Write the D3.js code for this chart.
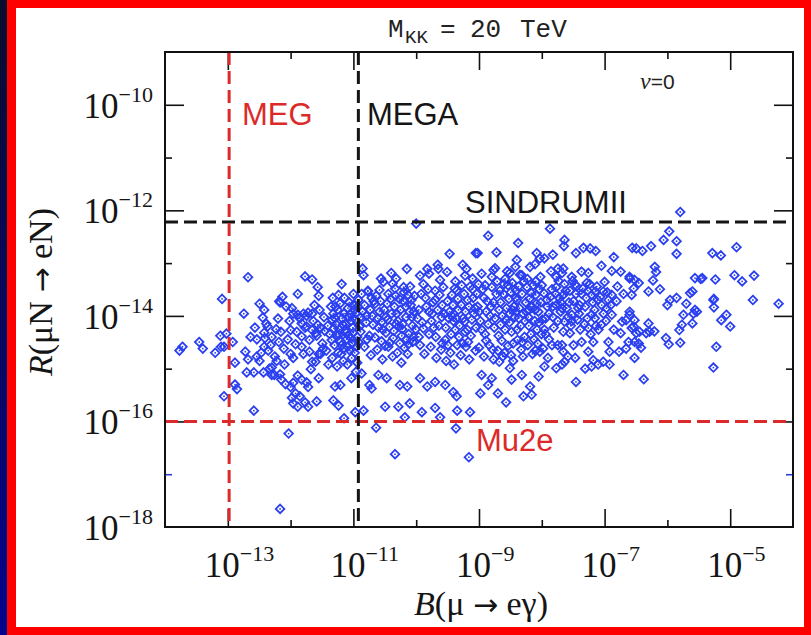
<!DOCTYPE html>
<html><head><meta charset="utf-8">
<script src="https://cdn.jsdelivr.net/npm/d3@7"></script>
<style>html,body{margin:0;padding:0;background:#fff;}svg{display:block;}</style>
</head><body>
<svg id="c" width="811" height="635"></svg>
<script>
// ---------------- DATA ----------------
// experimental limits
const megB = 1.05e-13, megaB = 1.2e-11, sindrumR = 6e-13, mu2eR = 1e-16;
// tick values and labels
const xMajor = [1e-13, 1e-11, 1e-9, 1e-7, 1e-5];
const xMajorLabels = ["\u221213", "\u221211", "\u22129", "\u22127", "\u22125"];
const xMinor = [1e-12, 1e-10, 1e-8, 1e-6];
const yMajor = [1e-18, 1e-16, 1e-14, 1e-12, 1e-10];
const yMajorLabels = ["\u221218", "\u221216", "\u221214", "\u221212", "\u221210"];
const yMinor = [1e-15, 1e-13, 1e-11];
const yMinorBlue = [1e-17];
// scan points [B(mu->e gamma), R(muN->eN)]
const ptsLeft = [[2.1e-13,5.4e-14],[8.1e-14,2.1e-14],[1.8e-13,1.1e-14],[1.7e-14,2.2e-15],[1.9e-14,2.6e-15],[3.5e-14,3.2e-15],[4e-14,2.4e-15],[6.3e-14,2e-15],[7.6e-14,4.2e-15],[7.8e-14,2.6e-15],[8.7e-14,2.6e-15],[9.5e-14,4.6e-15],[1.2e-13,3.2e-15],[1.3e-13,1.3e-15],[1.3e-13,5e-16],[1.4e-13,4.1e-16],[8.7e-14,3e-16],[2.6e-13,1.6e-16],[9.3e-13,5.9e-17],[6.8e-13,2.2e-18],[1.9e-13,2.1e-15],[2.1e-13,1.5e-15],[2e-13,8.5e-16],[2.6e-13,8.5e-16],[2.9e-13,3.6e-15],[3.2e-13,1.7e-14],[3.8e-13,1.3e-14],[3.6e-13,9.3e-15],[4.1e-13,7.1e-15],[2.9e-13,1.7e-15],[3.2e-13,1.4e-15],[3.8e-13,4.8e-15],[3.9e-13,3.8e-15],[3.8e-13,2.6e-15],[4.4e-13,2.2e-15],[3.7e-13,8.5e-16],[4.6e-13,1e-15],[5e-13,1.05e-15],[5e-13,4e-15],[5.9e-13,5.6e-15],[6.3e-13,8.9e-15],[6.8e-13,1.8e-14],[7.4e-13,2.3e-14],[6.6e-13,1.9e-14],[8.5e-13,1.5e-14],[1.05e-12,1.4e-14],[1e-12,5.4e-15],[1.1e-12,1.1e-14],[1.3e-12,2.6e-14],[1.7e-12,5.6e-14],[2.2e-12,4.9e-14],[2.7e-12,3.5e-14],[2.8e-12,2.4e-14],[1.3e-12,1.05e-14],[1.6e-12,1.1e-14],[1.9e-12,1.15e-14],[2.2e-12,1.1e-14],[1.5e-12,7.2e-15],[1.5e-12,4.1e-15],[1.8e-12,6.3e-15],[2.2e-12,5.4e-15],[2.5e-12,4.7e-15],[3e-12,5.9e-15],[1e-12,1.9e-15],[1.1e-12,1.6e-15],[1.6e-12,1.9e-15],[2e-12,2.1e-15],[2.8e-12,1.9e-15],[3.3e-12,2.4e-15],[5e-13,7.6e-16],[5.5e-13,7.6e-16],[6.8e-13,7.8e-16],[7.1e-13,6.2e-16],[8.3e-13,5.1e-16],[1.1e-12,5.4e-16],[1.3e-12,7.4e-16],[1.5e-12,6.2e-16],[1e-12,4.5e-16],[1.05e-12,2.8e-16],[1.2e-12,3.4e-16],[1.4e-12,3e-16],[1.3e-12,1.9e-16],[1.9e-12,4.5e-16],[1.8e-12,5.5e-16],[2.1e-12,9.8e-16],[2.2e-12,1.35e-15],[2.5e-12,1.35e-15],[2.8e-12,6.6e-16],[2.6e-12,2.4e-16],[1.9e-12,1.9e-16],[1.7e-12,2.3e-16],[1.1e-12,2.2e-16],
[1.4e-12,9e-15],[1.7e-12,6e-15],[2.3e-12,8e-15],[2.9e-12,1.3e-14],[3.4e-12,9.5e-15],[3.9e-12,6.5e-15],[2.0e-12,3.5e-15],[2.6e-12,4.2e-15],[3.2e-12,3.0e-15],[4.2e-12,4.5e-15],[1.5e-12,2.6e-15],[3.7e-12,2.2e-15],[4.4e-12,1.5e-14],[2.4e-12,1.6e-14],[3.0e-12,1.9e-15],[4.0e-12,1.2e-15],[1.8e-12,1.0e-14],[2.7e-12,6.8e-15],[3.5e-12,5.2e-15],[4.6e-12,8.5e-15],
[2.3e-13,4.0e-15],[2.7e-13,6.0e-15],[3.4e-13,2.0e-15],[4.8e-13,2.8e-15],[5.6e-13,1.7e-15],[6.5e-13,3.2e-15],[7.8e-13,2.4e-15],[9.0e-13,3.6e-15],[8.0e-13,1.2e-15],[6.0e-13,1.4e-15],[4.3e-13,6.3e-15],[7.0e-13,5.0e-15],[9.6e-13,8.0e-15],[1.2e-12,2.9e-15],[1.25e-12,5.0e-15]];
const ptsMid = [[1e-10,5.6e-13],[3.4e-10,1.5e-13],[8.9e-10,1.55e-13],[1.4e-11,7.9e-14],[1.45e-11,5.9e-14],[7.1e-11,7.8e-14],[2.75e-11,5.1e-14],[3e-11,4.4e-14],[4e-11,6.5e-14],[4.8e-11,5.1e-14],[4.2e-11,4.1e-14],[1.15e-10,5.8e-14],[1.5e-10,7.8e-14],[1.6e-10,6.3e-14],[2.2e-10,9.3e-14],[2.25e-10,7.8e-14],[3.1e-10,6.8e-14],[4.2e-10,4.5e-14],[5.5e-10,9.3e-14],[6.3e-10,7.8e-14],[6e-10,5.8e-14],[7.9e-10,5.1e-14],[6.5e-12,4e-14],[5.8e-12,2.5e-14],[1e-11,2.6e-14],[1.7e-11,3e-14],[2.1e-11,1.9e-14],[3.6e-11,2.6e-14],[7.4e-11,2.5e-14],[6.3e-11,3.5e-14],
[4.8e-12,2.5e-16],[5.8e-12,2e-16],[7.1e-12,1.15e-16],[1.07e-11,1.5e-16],[1.45e-11,1.6e-16],[1.95e-11,4.2e-16],[3.2e-11,1.9e-16],[5.2e-11,1.9e-16],[7.9e-11,2.2e-16],[6.6e-11,1.2e-16],[1.23e-10,1.5e-16],[2e-10,1.8e-16],[2.4e-10,1.2e-16],[4.4e-10,3e-16],[4.5e-10,1.6e-16],[4.3e-10,7.4e-17],[7.2e-10,1.5e-16],[2.3e-11,7.6e-17],[4.6e-11,2.4e-17],[6.9e-10,2.1e-17],
[5.1e-12,4.6e-16],[6.2e-12,4.9e-16],[9.3e-12,6.6e-16],[1.1e-11,8.7e-16],[1.35e-11,8.1e-16],[1.8e-11,4.9e-16],[2.5e-11,7.6e-16],[3.4e-11,6.6e-16],[5.5e-11,4.9e-16],[7.2e-11,4.6e-16],[1.15e-10,6.6e-16],[1.5e-10,4.6e-16],[2e-10,5.6e-16],[2.9e-10,4.9e-16],[3.9e-10,3.6e-16],
[4.8e-12,1.1e-14],[5.3e-12,7e-15],[5.9e-12,4.4e-15],[6.6e-12,9e-15],[7.4e-12,5.5e-15],[8.2e-12,1.4e-14],[9.1e-12,8e-15],[1.0e-11,4.8e-15],[1.1e-11,1.1e-14],[1.25e-11,6.3e-15],[5.0e-12,2.8e-15],[5.7e-12,2.0e-15],[6.3e-12,3.3e-15],[7.0e-12,2.4e-15],[7.8e-12,3.6e-15],[8.8e-12,2.2e-15],[9.6e-12,3.0e-15],[1.05e-11,2.0e-15],[1.2e-11,3.2e-15],[4.6e-12,1.6e-15],[5.5e-12,1.1e-15],[6.9e-12,1.4e-15],[8.0e-12,1.2e-15],[9.4e-12,1.6e-15],[1.15e-11,1.3e-15],[6.1e-12,1.7e-14],[7.2e-12,2.2e-14],[8.6e-12,1.8e-14],[5.2e-12,1.5e-14],[1.0e-11,1.6e-14],[1.3e-11,9.5e-15],[4.9e-12,5.8e-15],[6.8e-12,6.8e-15],[8.4e-12,4.2e-15],[1.15e-11,4.0e-15],
[4.5e-12,3.5e-15],[5.1e-12,9.0e-15],[5.6e-12,1.3e-14],[6.0e-12,5.5e-15],[6.5e-12,2.8e-15],[7.1e-12,1.1e-14],[7.6e-12,7.0e-15],[8.1e-12,2.6e-15],[8.9e-12,1.1e-14],[9.8e-12,6.0e-15],[1.08e-11,8.5e-15],[1.18e-11,1.5e-14],[5.4e-12,4.4e-15],[6.4e-12,1.9e-15],[7.7e-12,4.8e-15],[9.2e-12,3.8e-15],[1.12e-11,2.6e-15],[4.7e-12,2.2e-14],[8.3e-12,9.5e-15],[1.02e-11,1.3e-14],
[1.4e-11,1.2e-14],[1.6e-11,7.5e-15],[1.8e-11,4.2e-15],[2.0e-11,1.0e-14],[2.2e-11,1.7e-14],[2.5e-11,6.0e-15],[2.8e-11,3.3e-15],[3.1e-11,1.3e-14],[3.5e-11,8.5e-15],[3.9e-11,2.1e-14],[4.4e-11,5.2e-15],[4.9e-11,1.1e-14],[5.5e-11,3.0e-15],[6.1e-11,7.0e-15],[6.8e-11,1.5e-14],[7.6e-11,4.5e-15],[8.5e-11,9.5e-15],[9.4e-11,2.4e-14],[1.5e-11,2.6e-15],[1.9e-11,1.8e-15],[2.4e-11,2.3e-15],[2.9e-11,1.5e-15],[3.6e-11,2.6e-15],[4.2e-11,1.7e-15],[5.0e-11,2.0e-15],[5.8e-11,1.3e-15],[6.5e-11,2.5e-15],[7.3e-11,1.9e-15],[8.8e-11,3.2e-15],[1.7e-11,2.9e-14],[2.6e-11,3.1e-14],[4.6e-11,3.3e-14],[6.4e-11,2.8e-14],[8.0e-11,3.6e-14],[3.3e-11,4.8e-15],[5.3e-11,6.3e-15],[9.8e-11,5.6e-15],[1.2e-11,2.0e-14],
[1.3e-11,5.0e-15],[1.5e-11,1.6e-14],[1.65e-11,3.6e-15],[1.85e-11,1.3e-14],[2.05e-11,6.8e-15],[2.3e-11,2.4e-14],[2.45e-11,9.0e-15],[2.7e-11,1.9e-14],[2.95e-11,5.5e-15],[3.2e-11,2.7e-15],[3.45e-11,1.7e-14],[3.75e-11,6.2e-15],[4.05e-11,1.1e-14],[4.3e-11,3.8e-15],[4.7e-11,2.4e-14],[5.1e-11,8.0e-15],[5.6e-11,1.3e-14],[5.9e-11,4.2e-15],[6.3e-11,1.9e-14],[6.9e-11,9.5e-15],[7.5e-11,2.9e-15],[8.2e-11,1.6e-14],[8.7e-11,6.5e-15],[9.2e-11,1.2e-14],[1.35e-11,2.6e-14],[1.95e-11,2.2e-14],[2.2e-11,3.9e-15],[2.85e-11,7.8e-15],[3.8e-11,3.1e-15],[4.5e-11,1.5e-14],[5.4e-11,2.1e-14],[6.0e-11,5.6e-15],[7.0e-11,3.6e-15],[7.8e-11,1.2e-14],[9.0e-11,4.0e-15],[1.6e-11,1.0e-14],[2.6e-11,1.2e-14],[3.3e-11,9.5e-15],[4.8e-11,7.0e-15],[8.4e-11,2.0e-14],
[1.1e-10,1.3e-14],[1.25e-10,7.5e-15],[1.4e-10,2.2e-14],[1.6e-10,4.5e-15],[1.8e-10,1.1e-14],[2.0e-10,3.0e-14],[2.3e-10,6.5e-15],[2.6e-10,1.6e-14],[2.9e-10,3.5e-15],[3.3e-10,9.0e-15],[3.7e-10,2.5e-14],[4.2e-10,5.5e-15],[4.7e-10,1.3e-14],[5.3e-10,3.8e-14],[5.9e-10,7.8e-15],[6.6e-10,2.0e-14],[7.4e-10,4.2e-15],[8.3e-10,1.1e-14],[1.15e-10,2.8e-15],[1.35e-10,1.9e-15],[1.7e-10,2.6e-15],[2.1e-10,1.6e-15],[2.5e-10,2.3e-15],[3.0e-10,1.4e-15],[3.5e-10,2.0e-15],[4.0e-10,1.2e-15],[4.5e-10,2.8e-15],[5.1e-10,1.8e-15],[6.2e-10,2.6e-15],[7.0e-10,1.5e-15],[8.8e-10,2.2e-15],[1.3e-10,4.0e-14],[2.4e-10,4.8e-14],[4.4e-10,3.0e-14],[7.9e-10,3.2e-14],[1.9e-10,6.0e-15],[3.9e-10,8.0e-15],[6.0e-10,5.0e-15],[9.0e-10,6.0e-15],[2.8e-10,1.1e-14],
[1.05e-10,9.0e-15],[1.2e-10,2.6e-14],[1.3e-10,5.8e-15],[1.45e-10,1.5e-14],[1.55e-10,3.2e-14],[1.75e-10,8.0e-15],[1.85e-10,1.8e-14],[2.05e-10,4.0e-15],[2.2e-10,1.3e-14],[2.35e-10,2.5e-14],[2.55e-10,9.5e-15],[2.7e-10,3.5e-14],[2.95e-10,6.0e-15],[3.15e-10,1.9e-14],[3.4e-10,1.2e-14],[3.6e-10,4.5e-15],[3.85e-10,1.6e-14],[4.1e-10,3.3e-14],[4.35e-10,9.0e-15],[4.6e-10,2.1e-14],[4.9e-10,6.5e-15],[5.2e-10,1.6e-14],[5.5e-10,3.0e-15],[5.8e-10,2.6e-14],[6.1e-10,1.2e-14],[6.5e-10,5.5e-15],[6.9e-10,1.5e-14],[7.2e-10,3.6e-14],[7.7e-10,8.5e-15],[8.1e-10,2.2e-14],[8.6e-10,1.4e-14],[1.1e-10,4.0e-15],[1.6e-10,1.2e-14],[2.0e-10,2.0e-14],[2.6e-10,3.0e-15],[3.2e-10,2.8e-15],[3.7e-10,1.0e-14],[4.8e-10,4.0e-15],[5.6e-10,9.0e-15],[6.7e-10,3.2e-15]];
const ptsCenter = [[1.35e-8,4.5e-13],[1.4e-9,3.3e-13],[4.2e-9,2.4e-13],[2.3e-8,2.75e-13],[2.25e-8,2.1e-13],[1.9e-9,1.6e-13],[9.5e-10,1.55e-13],[4.6e-8,1.95e-13],[5.9e-8,1.9e-13],[7.2e-8,1.7e-13],[1.4e-7,1.3e-13],[2.75e-7,1.95e-13],[8.3e-9,1.55e-13],[9.3e-9,1.23e-13],[1.5e-8,1.45e-13],[1.1e-8,1.23e-13],[3.5e-8,1.55e-13],[4e-9,1.15e-13],[3.8e-9,8.5e-14],[1.7e-9,7.4e-14],[3.1e-9,6.5e-14],[4.8e-9,5.9e-14],[7.8e-9,9.5e-14],[1.8e-8,7.9e-14],[2.2e-8,7.9e-14],[4.3e-8,6.9e-14],[5.5e-8,6.5e-14],[8.9e-8,8.9e-14],[1.3e-7,7.1e-14],[1.8e-7,6.9e-14],[2.5e-7,5.5e-14],[1.7e-8,5.5e-14],[3e-8,5.5e-14],
[3.4e-8,3.9e-14],[5.2e-8,4.2e-14],[7.1e-8,2.9e-14],[9.5e-8,2.9e-14],[1.3e-7,2.5e-14],[1.55e-7,1.9e-14],[1.07e-7,1.4e-14],[1.3e-7,1.05e-14],[1.9e-7,7.8e-15],[2.2e-7,8.3e-15],[2.5e-7,1.05e-14],[2.7e-7,5.9e-15],[1.8e-7,4.7e-15],[2.4e-7,3.2e-15],[1.7e-7,2.1e-15],[2.2e-7,2.4e-15],[2e-7,7.6e-16],[1.2e-7,1.2e-15],[9.5e-8,1.35e-15],[6.6e-8,1.45e-15],[5.5e-8,2.1e-15],[4.3e-8,3.2e-15],[3.5e-8,5.6e-16],[4.9e-8,1e-15],[6.2e-8,1.1e-15],[7.9e-8,1.2e-15],[3.2e-8,2.8e-15],[2.8e-8,4.7e-15],[2.3e-8,7.8e-15],[3e-8,1.05e-14],[2.1e-8,1.4e-14],[3.8e-8,1.4e-14],[6.2e-8,1.05e-14],[8.9e-8,6.8e-15],[5.5e-8,5.9e-15],[1.15e-7,3.2e-15],[1.2e-7,2.1e-15],[6.6e-8,3.2e-15],[3.4e-8,1.6e-15],[2.3e-8,1.35e-15],[2.2e-8,2.1e-15],[1.8e-8,2.8e-15],[2.6e-8,1.7e-15],[2.1e-8,1.2e-15],
[1.05e-9,3.4e-16],[2e-9,3.4e-16],[2.7e-9,2.3e-16],[5.1e-9,3e-16],[6.9e-9,3.2e-16],[6.5e-9,4.6e-16],[3.3e-9,6.2e-16],[4.8e-9,7.6e-16],[8.9e-9,7.1e-16],[1.1e-8,1.1e-15],[1.7e-8,1.02e-15],[9.3e-9,2.1e-15],[1.45e-8,2.8e-15],[2.1e-8,2.8e-15],[1.4e-9,4.9e-16],[1.6e-9,6.6e-16],[1.1e-9,7.6e-16],[3.1e-9,1.02e-15],[2.1e-9,1.35e-15],
[9.5e-10,1.5e-14],[1.05e-9,8e-15],[1.15e-9,3.2e-14],[1.25e-9,4.5e-15],[1.35e-9,1.9e-14],[1.5e-9,1.0e-14],[1.6e-9,5.5e-14],[1.75e-9,6.0e-15],[1.9e-9,2.6e-14],[2.1e-9,1.3e-14],[2.3e-9,3.4e-15],[2.5e-9,4.0e-14],[2.7e-9,8.5e-15],[3.0e-9,2.1e-14],[3.3e-9,5.0e-15],[3.6e-9,1.5e-14],[3.9e-9,3.0e-14],[4.3e-9,9.0e-15],[4.7e-9,2.3e-15],[5.2e-9,4.5e-14],[5.7e-9,1.2e-14],[6.2e-9,6.5e-15],[6.8e-9,2.7e-14],[7.5e-9,3.6e-15],[8.2e-9,1.7e-14],[9.0e-9,7.5e-15],[1.0e-8,3.8e-14],[1.1e-8,5.5e-15],[1.2e-8,2.0e-14],[1.3e-8,1.1e-14],[1.45e-8,3.2e-14],[1.0e-9,2.5e-15],[1.2e-9,1.7e-15],[1.45e-9,2.8e-15],[1.7e-9,1.5e-15],[2.0e-9,2.2e-15],[2.4e-9,1.7e-15],[2.9e-9,2.7e-15],[3.5e-9,1.4e-15],[4.1e-9,3.5e-15],[5.0e-9,1.7e-15],[6.0e-9,2.8e-15],[7.1e-9,1.9e-15],[8.6e-9,3.0e-15],[1.05e-8,2.4e-15],[1.25e-8,1.6e-15],[1.1e-9,6.3e-14],[1.8e-9,8.0e-14],[2.8e-9,7.0e-14],[4.5e-9,6.0e-14],[6.5e-9,8.5e-14],[9.5e-9,5.5e-14],[1.4e-8,7.0e-14],[1.3e-9,1.2e-14],[2.2e-9,6.8e-15],[3.1e-9,1.1e-14],[4.0e-9,2.0e-14],[5.4e-9,8.0e-15],[7.8e-9,1.3e-14],[1.15e-8,9.0e-15],[1.55e-8,6.0e-15],[9.8e-10,4.0e-14],[1.6e-9,3.5e-14],[2.6e-9,5.0e-14],[3.4e-9,4.2e-14],[5.8e-9,3.5e-14],[8.0e-9,4.5e-14],[1.5e-8,1.5e-14],
[9.2e-10,2.6e-14],[1.0e-9,1.2e-14],[1.1e-9,5.5e-15],[1.2e-9,2.2e-14],[1.3e-9,3.4e-15],[1.4e-9,7.0e-15],[1.55e-9,1.5e-14],[1.65e-9,2.3e-15],[1.8e-9,9.0e-15],[1.95e-9,4.5e-14],[2.05e-9,4.2e-15],[2.2e-9,1.8e-14],[2.35e-9,1.0e-14],[2.45e-9,2.6e-14],[2.6e-9,5.5e-15],[2.75e-9,1.4e-14],[2.9e-9,3.8e-14],[3.05e-9,7.5e-15],[3.2e-9,2.8e-14],[3.35e-9,1.3e-14],[3.5e-9,3.0e-15],[3.7e-9,9.5e-15],[3.85e-9,2.2e-14],[4.05e-9,5.5e-15],[4.25e-9,3.6e-14],[4.4e-9,1.4e-14],[4.6e-9,6.5e-15],[4.85e-9,2.6e-14],[5.05e-9,1.1e-14],[5.3e-9,4.0e-15],[5.55e-9,1.8e-14],[5.9e-9,5.0e-14],[6.1e-9,9.5e-15],[6.4e-9,2.1e-14],[6.7e-9,4.5e-15],[7.0e-9,1.5e-14],[7.3e-9,3.8e-14],[7.7e-9,8.0e-15],[8.0e-9,2.5e-14],[8.4e-9,5.5e-15],[8.8e-9,1.2e-14],[9.2e-9,3.2e-14],[9.7e-9,1.8e-14],[1.02e-8,8.5e-15],[1.08e-8,2.7e-14],[1.15e-8,4.5e-15],[1.22e-8,1.5e-14],[1.3e-8,3.6e-15],[1.38e-8,2.3e-14],[1.5e-8,9.5e-15],[1.25e-9,3.8e-14],[1.7e-9,1.8e-14],[2.15e-9,3.0e-14],[2.55e-9,2.0e-15],[3.25e-9,1.8e-15],[3.9e-9,1.2e-14],[4.9e-9,3.2e-15],[6.3e-9,1.3e-14],[7.9e-9,2.2e-15],[9.9e-9,4.5e-15],
[1.7e-8,3.5e-14],[1.9e-8,2.2e-14],[2.1e-8,6.5e-14],[2.4e-8,3.0e-14],[2.7e-8,1.8e-14],[3.1e-8,4.6e-14],[3.5e-8,2.6e-14],[4.0e-8,1.6e-14],[4.5e-8,3.3e-14],[5.1e-8,2.2e-14],[5.8e-8,4.0e-14],[6.5e-8,1.8e-14],[7.5e-8,3.6e-14],[8.5e-8,2.3e-14],[1.0e-7,4.4e-14],[1.15e-7,2.0e-14],[1.6e-7,3.6e-14],[2.0e-7,2.6e-14],[1.8e-8,8.0e-15],[2.2e-8,5.0e-15],[2.9e-8,6.5e-15],[3.7e-8,8.5e-15],[4.8e-8,7.0e-15],[6.0e-8,4.5e-15],[7.0e-8,9.0e-15],[8.0e-8,5.5e-15],[1.05e-7,8.0e-15],[1.4e-7,5.5e-15],[2.0e-8,1.2e-14],[2.6e-8,9.5e-15],
[1.65e-8,2.6e-14],[1.85e-8,4.6e-14],[2.0e-8,1.8e-14],[2.3e-8,4.0e-14],[2.5e-8,1.4e-14],[2.8e-8,3.0e-14],[3.2e-8,1.9e-14],[3.6e-8,3.6e-14],[3.9e-8,1.1e-14],[4.3e-8,2.6e-14],[4.9e-8,1.5e-14],[5.4e-8,3.0e-14],[6.2e-8,2.5e-14],[6.9e-8,1.3e-14],[7.8e-8,2.0e-14],[9.0e-8,1.6e-14],[1.1e-7,2.8e-14],[1.25e-7,1.6e-14],[1.7e-8,1.6e-14],[2.2e-8,2.5e-14],[3.0e-8,8.0e-15],[4.1e-8,5.5e-15],[5.3e-8,9.0e-15],[7.3e-8,6.5e-15],[9.6e-8,1.1e-14]];
const ptsRight = [[1.6e-6,9.3e-13],[1.07e-6,4e-13],[8.7e-7,2.75e-13],[1.4e-6,2.6e-13],[1.4e-6,1.5e-13],[3.2e-7,1.9e-13],[4e-7,1.7e-13],[5.5e-7,2.1e-13],[5.2e-6,1.55e-13],[7.1e-6,1.4e-13],[1.26e-5,2e-13],[6.3e-7,8.5e-14],[6.6e-7,6.8e-14],[5.9e-7,4.7e-14],[7.6e-7,3.2e-14],[5e-7,2.9e-14],[2.5e-7,5.1e-14],[3e-7,4.8e-14],[3.5e-7,4.2e-14],[2.9e-7,3.3e-14],[2.7e-7,2.5e-14],[2.75e-6,5.2e-14],[3.4e-6,5e-14],[3.6e-6,5.2e-14],[5.8e-6,4.9e-14],[1.17e-5,5.9e-14],[1.55e-5,4.5e-14],[2.4e-5,5.8e-14],[2.3e-6,2.7e-14],[2.5e-6,2.9e-14],[1e-6,1.6e-14],[1.1e-6,2e-14],[1.4e-6,2.2e-14],[2e-6,1.7e-14],[5.4e-6,2e-14],[5.5e-6,2.1e-14],[5.5e-6,1.45e-14],[2.3e-5,2e-14],[5.9e-5,1.7e-14],[1.8e-6,1.05e-14],[2.75e-6,1.3e-14],[2.95e-6,1.2e-14],[2.6e-6,1.1e-14],[2.5e-6,7.2e-15],[1.7e-6,6.8e-15],[1.55e-6,5.4e-15],[7.2e-6,8.3e-15],[8.7e-6,1.05e-14],[1e-5,6.3e-15],[9.5e-7,3.8e-15],[1.05e-6,2.9e-15],[1.6e-6,3.1e-15],[6e-6,2.6e-15],[5.4e-6,1.05e-15],[4.2e-7,6.3e-16],[2.5e-7,1.2e-14],[3e-7,8.3e-15],[2.9e-7,6.3e-15],[3.2e-7,4.7e-15],[3.6e-7,5e-15],[3e-7,3.2e-15],[3.5e-7,3e-15],[3.8e-7,2.5e-15],[3e-7,1.6e-15],[5e-7,7.2e-15],[5.2e-7,5e-15],[6.2e-7,5.1e-15],[4.6e-7,4.7e-15]];

// ---------------- DRAWING ----------------
const svg = d3.select("#c");
const defs = svg.append("defs");
const grad = defs.append("linearGradient").attr("id","navy").attr("x1",0).attr("y1",0).attr("x2",0).attr("y2",1);
grad.append("stop").attr("offset","0%").attr("stop-color","#0b0c2c");
grad.append("stop").attr("offset","100%").attr("stop-color","#04048e");
svg.append("rect").attr("width",811).attr("height",635).attr("fill","url(#navy)");
svg.append("rect").attr("x",7).attr("y",0).attr("width",804).attr("height",635).attr("fill","#ff0000");
svg.append("rect").attr("x",16).attr("y",8).attr("width",788).attr("height",619).attr("fill","#ffffff");

const x = d3.scaleLog().domain([1e-14, 1e-4]).range([165, 793]);
const y = d3.scaleLog().domain([1e-18, 1e-9]).range([527, 52]);
const [X0, X1] = x.range(), [Y0, Y1] = y.range();

// points
const allPts = ptsLeft.concat(ptsMid, ptsCenter, ptsRight);
const ptColor = "#2a3ff0";
const pg = svg.append("g");
pg.selectAll("path").data(allPts).join("path")
  .attr("d","M0,-4.3L4.3,0L0,4.3L-4.3,0Z")
  .attr("transform", d => `translate(${x(d[0])},${y(d[1])})`)
  .attr("fill","none").attr("stroke",ptColor).attr("stroke-width",1.8);
pg.selectAll("circle").data(allPts).join("circle")
  .attr("cx", d => x(d[0])).attr("cy", d => y(d[1])).attr("r",0.9).attr("fill",ptColor);

// ticks via d3 axes
function ticks(gen, vals, size, tr, color) {
  const g = svg.append("g").attr("transform", tr)
    .call(gen.tickValues(vals).tickSize(size).tickFormat(""));
  g.select(".domain").remove();
  g.selectAll(".tick line").attr("stroke", color || "#111").attr("stroke-width", 1.6);
}
ticks(d3.axisBottom(x), xMajor, -18, `translate(0,${Y0})`);
ticks(d3.axisBottom(x), xMinor, -7, `translate(0,${Y0})`);
ticks(d3.axisTop(x), xMajor, -18, `translate(0,${Y1})`);
ticks(d3.axisTop(x), xMinor, -7, `translate(0,${Y1})`);
ticks(d3.axisLeft(y), yMajor.slice(1), -19, `translate(${X0},0)`);
ticks(d3.axisLeft(y), yMinor, -7, `translate(${X0},0)`);
ticks(d3.axisLeft(y), yMinorBlue, -7, `translate(${X0},0)`, "#2a3fd8");
ticks(d3.axisRight(y), yMajor.slice(1), -19, `translate(${X1},0)`);
ticks(d3.axisRight(y), yMinor, -7, `translate(${X1},0)`);
ticks(d3.axisRight(y), yMinorBlue, -7, `translate(${X1},0)`, "#2a3fd8");

// limit lines
const red = "#dc2a2a", blk = "#151515";
function vline(v, c) {
  svg.append("line").attr("x1", x(v)).attr("x2", x(v)).attr("y1", Y1).attr("y2", Y0)
    .attr("stroke", c).attr("stroke-width", 3).attr("stroke-dasharray", "13,6");
}
function hline(v, c) {
  svg.append("line").attr("x1", X0).attr("x2", X1).attr("y1", y(v)).attr("y2", y(v))
    .attr("stroke", c).attr("stroke-width", 3).attr("stroke-dasharray", "13,6");
}
hline(sindrumR, blk);
hline(mu2eR, red);
vline(megB, red);
vline(megaB, blk);

// frame
svg.append("rect").attr("x", X0).attr("y", Y1).attr("width", X1 - X0).attr("height", Y0 - Y1)
  .attr("fill","none").attr("stroke","#111").attr("stroke-width",2);

// tick labels
const serif = "'Liberation Serif','Times New Roman',serif";
xMajor.forEach((v, i) => {
  const t = svg.append("text").attr("x", x(v) - 23).attr("y", 577)
    .attr("font-family", serif).attr("font-size", 35).attr("fill","#151515");
  t.append("tspan").text("10");
  t.append("tspan").attr("font-size", 22).attr("dy", -16).text(xMajorLabels[i]);
});
yMajor.forEach((v, i) => {
  const t = svg.append("text").attr("x", 153).attr("y", y(v) + 13).attr("text-anchor","end")
    .attr("font-family", serif).attr("font-size", 35).attr("fill","#151515");
  t.append("tspan").text("10");
  t.append("tspan").attr("font-size", 22).attr("dy", -16).text(yMajorLabels[i]);
});

// axis titles
const arrowFont = "'DejaVu Sans',sans-serif";
const xt = svg.append("text").attr("x", 481).attr("y", 615).attr("text-anchor","middle")
  .attr("font-family", serif).attr("font-size", 34).attr("fill","#151515");
xt.append("tspan").attr("font-style","italic").text("B");
xt.append("tspan").text("(\u03bc ");
xt.append("tspan").attr("font-family", arrowFont).attr("font-size", 30).text("\u2192");
xt.append("tspan").text(" e\u03b3)");
const yt = svg.append("text").attr("transform","translate(52,292) rotate(-90)").attr("text-anchor","middle")
  .attr("font-family", serif).attr("font-size", 34).attr("fill","#151515");
yt.append("tspan").attr("font-style","italic").text("R");
yt.append("tspan").text("(\u03bcN ");
yt.append("tspan").attr("font-family", arrowFont).attr("font-size", 30).text("\u2192");
yt.append("tspan").text(" eN)");

// title
const mono = "'Liberation Mono','Courier New',monospace";
const tt = svg.append("g").attr("font-family", mono).attr("fill","#222");
tt.append("text").attr("x",388).attr("y",37).attr("font-size",26).text("M");
tt.append("text").attr("x",405).attr("y",43).attr("font-size",19).text("KK");
tt.append("text").attr("x",440).attr("y",37).attr("font-size",26).text("=");
tt.append("text").attr("x",470).attr("y",37).attr("font-size",26).text("20");
tt.append("text").attr("x",520).attr("y",37).attr("font-size",26).text("TeV");

// annotations
const sans = "'Liberation Sans',Arial,sans-serif";
function label(txt, px, py, c) {
  svg.append("text").attr("x", px).attr("y", py).attr("font-family", sans).attr("font-size", 31)
    .attr("fill", c).text(txt);
}
label("MEG", 242, 125, red);
label("MEGA", 367, 125, blk);
label("SINDRUMII", 465, 213, blk);
label("Mu2e", 476, 451, red);
const nu = svg.append("text").attr("x", 640).attr("y", 89).attr("font-family", sans).attr("font-size", 21).attr("fill","#222");
nu.append("tspan").attr("font-style","italic").attr("font-family", serif).attr("font-size", 24).text("\u03bd");
nu.append("tspan").text("=0");
</script>
</body></html>
